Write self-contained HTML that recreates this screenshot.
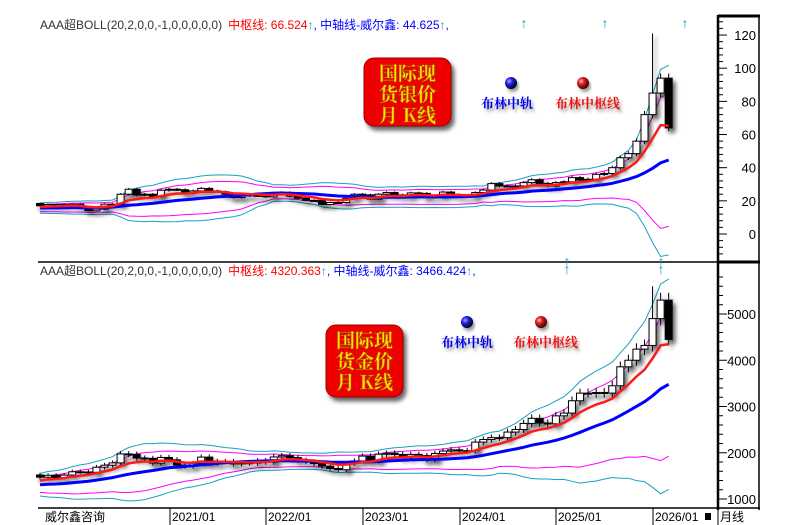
<!DOCTYPE html>
<html><head><meta charset="utf-8"><style>
html,body{margin:0;padding:0;background:#fff;width:799px;height:525px;overflow:hidden}
svg{display:block;font-family:"Liberation Sans","Noto Sans CJK SC",sans-serif}
</style></head><body>
<svg id="s" width="799" height="525" xmlns="http://www.w3.org/2000/svg">
<defs>
<filter id="sh" x="-20%" y="-20%" width="150%" height="150%"><feGaussianBlur in="SourceAlpha" stdDeviation="2"/><feOffset dx="3" dy="4"/><feComponentTransfer><feFuncA type="linear" slope="0.6"/></feComponentTransfer><feMerge><feMergeNode/><feMergeNode in="SourceGraphic"/></feMerge></filter>
<filter id="ts" x="-10%" y="-30%" width="130%" height="180%"><feGaussianBlur in="SourceAlpha" stdDeviation="1.5"/><feOffset dx="2" dy="3"/><feComponentTransfer><feFuncA type="linear" slope="0.4"/></feComponentTransfer><feMerge><feMergeNode/><feMergeNode in="SourceGraphic"/></feMerge></filter>
<radialGradient id="gb" cx="35%" cy="35%" r="65%"><stop offset="0" stop-color="#aaf"/><stop offset="0.4" stop-color="#22e"/><stop offset="1" stop-color="#002"/></radialGradient>
<radialGradient id="gr" cx="35%" cy="35%" r="65%"><stop offset="0" stop-color="#fbb"/><stop offset="0.4" stop-color="#d22"/><stop offset="1" stop-color="#400"/></radialGradient>
</defs>
<g id="g"></g>
</svg>
<script>
var pre_s=[17.2,16.4,16.3,16.4,16.4,16.1,15.4,14.5,14.6,14.7,14.2,15.5,16,15.2,15.1,14.9,14.4,15.3,16.4,18.4];
var sil=[17,17.8,17,17.8,18,16.5,14,15,18,18,24,27,23.5,24,22.5,26.4,27,26.7,24.5,26,27.5,26,25.5,24,22,24,23,23.3,22.4,24.3,25,22.8,21.6,20.3,20.3,17.8,19,19,21.5,24,23.6,21,24,25,23.6,22.8,24.8,24.5,22.3,22.9,25.3,23.8,22.9,22.7,25,26.5,30.4,29,29,29,31,32.7,30.5,28.9,31,31.5,34,32.5,33,36,36.5,40,46,48.5,56,72,85,94,64];
var pre_g=[1345,1318,1325,1315,1300,1253,1223,1200,1192,1215,1222,1282,1321,1313,1292,1283,1305,1409,1413,1520];
var gld=[1472,1513,1464,1517,1589,1585,1577,1687,1730,1781,1975,1967,1886,1879,1777,1898,1847,1734,1708,1769,1906,1770,1814,1813,1757,1783,1774,1829,1796,1909,1937,1896,1837,1807,1765,1711,1660,1633,1768,1824,1928,1826,1969,1990,1963,1919,1965,1940,1849,1983,2036,2063,2039,2044,2230,2286,2327,2326,2447,2503,2634,2744,2643,2625,2798,2858,3124,3289,3289,3303,3290,3448,3858,4000,4240,4320,4900,5300,4450];
var g=document.getElementById('g'),h='';
function X(i){return 40+i*8.06;}
function panel(pre,d,Y,hiSpike,m1,m2){
  var all=pre.concat(d),P=pre.length,n=d.length;
  var mid=[],sd=[],red=[],e=all[0],k=2/9;
  for(var i=0;i<all.length;i++){e=e+k*(all[i]-e);red.push(e);
    var s=0,c=0;for(var j=Math.max(0,i-19);j<=i;j++){s+=all[j];c++;}var m=s/c;var v=0;for(j=Math.max(0,i-19);j<=i;j++)v+=(all[j]-m)*(all[j]-m);mid.push(m);sd.push(Math.sqrt(v/c));}
  function line(f,col,w){var p='';for(var i=0;i<n;i++){p+=(i?'L':'M')+X(i).toFixed(1)+','+Y(f(i+P)).toFixed(1);}h+='<path d="'+p+'" fill="none" stroke="'+col+'" stroke-width="'+w+'"/>';}
  line(function(i){return mid[i]+m2*sd[i]},'#1aa0c0',1);
  line(function(i){return mid[i]-m2*sd[i]},'#1aa0c0',1);
  line(function(i){return mid[i]+m1*sd[i]},'#f0f',1);
  line(function(i){return mid[i]-m1*sd[i]},'#f0f',1);
  var cs='';
  for(var i=0;i<n;i++){var o=i?d[i-1]:all[P-1],c=d[i];var hi=Math.max(o,c)*1.03,lo=Math.min(o,c)*0.97;if(hiSpike&&i==n-3)hi=hiSpike;
    var x=X(i),y1=Y(Math.max(o,c)),y2=Y(Math.min(o,c));
    cs+='<line x1="'+x+'" y1="'+Y(hi)+'" x2="'+x+'" y2="'+Y(lo)+'" stroke="#000"/>';
    if(c>=o)cs+='<rect x="'+(x-3.5)+'" y="'+y1+'" width="7" height="'+Math.max(1,y2-y1)+'" fill="#fff" stroke="#000"/>';
    else cs+='<rect x="'+(x-3.5)+'" y="'+y1+'" width="7" height="'+Math.max(1,y2-y1)+'" fill="#000" stroke="#000"/>';}
  h+='<g filter="url(#sh)">'+cs+'</g>';
  line(function(i){return mid[i]},'#0000ff',3);
  line(function(i){return red[i]},'#ff1a1a',2.5);
}
var Y1=function(v){return 234-v*1.658;},Y2=function(v){return 499-(v-1000)*0.04625;};
h+='<svg x="0" y="16" width="718" height="246" overflow="hidden"><g transform="translate(0,-16)">';
panel(pre_s,sil,Y1,121,2.1,3);
h+='</g></svg><svg x="0" y="262" width="718" height="246" overflow="hidden"><g transform="translate(0,-262)">';
panel(pre_g,gld,Y2,5600,1.95,2.85);
h+='</g></svg>';
h+='<line x1="38" y1="262" x2="760" y2="262" stroke="#000" stroke-width="1.5"/><line x1="718" y1="262" x2="760" y2="262" stroke="#000" stroke-width="3"/>';
h+='<line x1="718" y1="16" x2="760" y2="16" stroke="#000" stroke-width="3"/>';
h+='<line x1="718" y1="15" x2="718" y2="510" stroke="#000" stroke-width="2.5"/><line x1="759" y1="15" x2="759" y2="510" stroke="#000" stroke-width="1.5"/>';
h+='<line x1="38" y1="508" x2="760" y2="508" stroke="#000" stroke-width="1.5"/>';
for(var v=-20;v<=130;v+=4){var y=Y1(v);if(y<18||y>260)continue;h+='<line x1="719" y1="'+y+'" x2="'+(v%20==0?727:723)+'" y2="'+y+'" stroke="#000"/>';}
for(v=0;v<=120;v+=20)h+='<text x="756" y="'+(Y1(v)+5)+'" font-size="13" text-anchor="end" fill="#000">'+v+'</text>';
for(v=800;v<=5800;v+=200){y=Y2(v);if(y<264||y>506)continue;h+='<line x1="719" y1="'+y+'" x2="'+(v%1000==0?727:723)+'" y2="'+y+'" stroke="#000"/>';}
for(v=1000;v<=5000;v+=1000)h+='<text x="756" y="'+(Y2(v)+5)+'" font-size="13" text-anchor="end" fill="#000">'+v+'</text>';
var dl=[[172,'2021/01'],[268,'2022/01'],[365,'2023/01'],[462,'2024/01'],[558,'2025/01'],[655,'2026/01']];
dl.forEach(function(a){h+='<line x1="'+(a[0]-2)+'" y1="508" x2="'+(a[0]-2)+'" y2="525" stroke="#000"/><text x="'+a[0]+'" y="521" font-size="12" fill="#000">'+a[1]+'</text>';});
h+='<text x="45" y="521" font-size="12" fill="#000">威尔鑫咨询</text><rect x="705" y="513" width="6" height="7" fill="#000"/><line x1="718" y1="508" x2="718" y2="525" stroke="#000"/><text x="720" y="521" font-size="12" fill="#000">月线</text>';
h+='<text x="40" y="29" font-size="12"><tspan fill="#333">AAA超BOLL(20,2,0,0,-1,0,0,0,0,0)</tspan><tspan fill="#f00" dx="6">中枢线: 66.524</tspan><tspan fill="#1a9ab8">↑</tspan><tspan fill="#00f">, 中轴线-威尔鑫: 44.625</tspan><tspan fill="#1a9ab8">↑</tspan><tspan fill="#00f">,</tspan></text>';
h+='<text x="40" y="275" font-size="12"><tspan fill="#333">AAA超BOLL(20,2,0,0,-1,0,0,0,0,0)</tspan><tspan fill="#f00" dx="6">中枢线: 4320.363</tspan><tspan fill="#1a9ab8">↑</tspan><tspan fill="#00f">, 中轴线-威尔鑫: 3466.424</tspan><tspan fill="#1a9ab8">↑</tspan><tspan fill="#00f">,</tspan></text>';
[[524,28],[605,28],[685,28],[567,274],[661,274],[567,266],[661,266]].forEach(function(a){h+='<text x="'+a[0]+'" y="'+a[1]+'" font-size="14" fill="#1a9ab8" text-anchor="middle">↑</text>';});
function badge(x,y,w,hh,t){h+='<g filter="url(#sh)"><rect x="'+x+'" y="'+y+'" width="'+w+'" height="'+hh+'" rx="10" fill="#ee0000" stroke="#900" stroke-width="1"/></g>';
 t.forEach(function(s,i){h+='<text x="'+(x+w/2)+'" y="'+(y+22+i*21)+'" font-size="19" font-weight="bold" fill="#ffe000" stroke="#a07000" stroke-width="0.4" text-anchor="middle" font-family="Noto Serif CJK SC,serif">'+s+'</text>';});}
badge(364,58,87,68,['国际现','货银价','月 K线']);
badge(326,325,77,72,['国际现','货金价','月 K线']);
function leg(bx,by,tx,ty,col,grad,txt){h+='<circle cx="'+bx+'" cy="'+by+'" r="6" fill="url(#'+grad+')" filter="url(#ts)"/><text x="'+tx+'" y="'+ty+'" font-size="13" font-weight="bold" fill="'+col+'" filter="url(#ts)" font-family="Noto Serif CJK SC,serif">'+txt+'</text>';}
leg(511,83,481,108,'#0000ee','gb','布林中轨');
leg(583,83,555,108,'#ee1111','gr','布林中枢线');
leg(467,322,441,347,'#0000ee','gb','布林中轨');
leg(541,322,513,347,'#ee1111','gr','布林中枢线');
g.innerHTML=h;
</script>
</body></html>
